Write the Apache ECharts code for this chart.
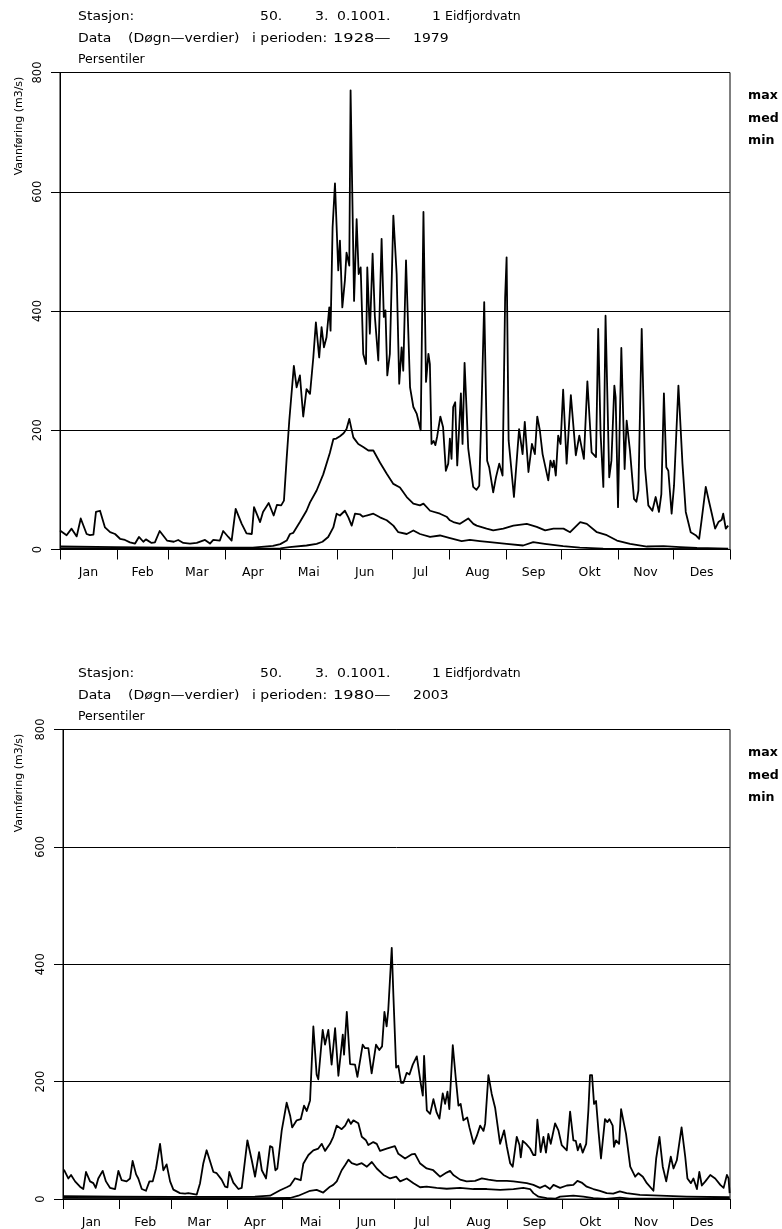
<!DOCTYPE html>
<html>
<head>
<meta charset="utf-8">
<script src="https://cdn.jsdelivr.net/npm/echarts@6/dist/echarts.min.js"></script>
<style>
html,body{margin:0;padding:0;background:#fff;}
#chart{width:782px;height:1229px;}
</style>
</head>
<body>
<div id="chart"></div>
<script>
// Month axis (day of year)
const monthNames = ['Jan','Feb','Mar','Apr','Mai','Jun','Jul','Aug','Sep','Okt','Nov','Des'];
const monthStarts = [0,31,59,90,120,151,181,212,243,273,304,334,365];
const yTicks = [0,200,400,600,800];
const seriesNames = ['max','med','min'];

// Header texts
const stationLabel = 'Stasjon:';
const stationNo = ['50.', '3.', '0.1001.', '1', 'Eidfjordvatn'];
const dataLabel = ['Data', '(Døgn\u2014verdier)', 'i perioden:'];
const period1 = ['1928\u2014', '1979'];
const period2 = ['1980\u2014', '2003'];
const subTitle = 'Persentiler';
const yTitle = 'Vannføring (m3/s)';

// 1928-1979, daily percentiles [day of year, m3/s]
const max1 = [[0,32],[3.6,24],[6.3,35],[9.1,22],[11.3,52],[14.5,26],[16.3,24],[18.2,25],[19.6,63],[21.8,65],[24.5,37],[27.3,29],[30,26],[32.7,18],[35.4,16],[38.1,12],[40.9,10],[43,21],[45.4,13],[46.8,17],[49.9,11],[51.7,12],[54.3,31],[58.3,15],[62,13],[64.4,16],[67.2,11],[70.8,10],[74.5,11],[79,16],[81.7,10],[83.5,16],[87.1,15],[88.9,31],[91.7,21],[93.5,15],[95.7,68],[99,43],[101.6,27],[104.5,26],[105.7,71],[109,46],[110.6,63],[113.7,78],[116.4,57],[118.2,75],[120.5,74],[122,82],[123.4,149],[124.9,216],[127.4,308],[128.9,272],[129.8,275],[130.7,292],[132.5,223],[134.3,269],[136.2,261],[138,322],[139.4,381],[141.2,322],[142.5,373],[143.8,339],[145.2,356],[146.7,406],[147.4,367],[148.5,540],[149.8,614],[151.6,468],[152.5,518],[153.8,406],[155.2,451],[156.1,498],[157.6,476],[158.3,770],[160.2,417],[161.6,554],[162.7,462],[163.8,473],[165.2,328],[166.7,311],[167.4,473],[168.8,362],[170.3,496],[171.5,392],[173.4,317],[175.2,521],[176.4,390],[177.3,401],[178.3,292],[179.7,328],[181.6,560],[183.4,462],[184.8,278],[186.1,339],[187,300],[188.5,485],[190.7,272],[192.5,239],[194.3,228],[196.5,200],[198,566],[199.4,281],[200.7,328],[201.5,311],[202.4,177],[203.5,182],[204.5,175],[205.5,190],[207.2,223],[208.7,205],[210.2,132],[211.5,144],[212.4,186],[213.3,152],[214.2,239],[215.3,247],[216.4,141],[218.4,262],[219.3,177],[220.4,313],[222.4,169],[225.1,105],[226.9,100],[228.4,107],[229.7,244],[231.1,415],[232.7,149],[233.8,138],[236,96],[237.5,121],[239.3,144],[241.1,124],[242.5,423],[243.3,490],[244.4,183],[247.3,88],[250.1,202],[252,160],[253.2,214],[255.2,130],[257.1,177],[258.7,160],[260,223],[261.4,200],[262.9,160],[266,116],[267.2,149],[268.3,138],[269,149],[270.1,124],[271.4,191],[272.7,177],[274.1,268],[276,144],[278.3,259],[281,158],[282.9,191],[285.4,152],[287.3,282],[289.6,163],[292,155],[293.2,370],[294.5,194],[296,105],[297.2,392],[299.2,121],[300.4,149],[301.2,150],[302,275],[302.7,255],[304,71],[305.8,338],[307.6,135],[308.7,216],[310.5,166],[312.7,85],[314,80],[315.1,99],[316.9,370],[318.7,138],[320.5,74],[322.7,65],[324.5,88],[326.3,63],[327.6,93],[329,262],[330.3,138],[331.4,132],[333.2,60],[334.5,107],[336.9,275],[339.1,144],[340.9,63],[343.6,29],[346.3,24],[348.2,18],[349.6,51],[351.8,105],[353.6,80],[355.1,60],[356.9,35],[358.7,46],[360.5,50],[361.3,60],[362.7,35],[364,40]];
const med1 = [[0,5],[30,4],[60,3],[90,3],[105,3],[116,6],[120,9],[123.5,15],[125.3,26],[127.1,28],[130.7,46],[134.3,65],[136.2,79],[137,82],[139.8,99],[143.4,126],[147,162],[148.9,185],[150.5,186],[152.5,190],[154.5,195],[156.1,202],[157.6,219],[158.3,222],[159.8,188],[161,183],[162.5,177],[165.2,172],[168,166],[170.7,166],[174.3,146],[178,127],[181.6,110],[185.2,104],[188.9,88],[192.5,77],[196.1,74],[198,77],[201.6,65],[207,60],[210.6,55],[212.4,49],[214.3,46],[217.9,43],[222.4,52],[225.2,43],[227,40],[232.4,35],[236,32],[241.5,35],[247,40],[254.3,43],[259.7,38],[264.3,32],[268.8,35],[274.3,35],[277.9,29],[283.4,46],[287,43],[292.5,29],[297.9,24],[303.4,15],[310.6,9.5],[319.7,5],[328.8,5.7],[337.9,4],[347,2.5],[364,1.5]];
const min1 = [[0,2],[60,1.5],[120,2],[125,4],[134.3,6.7],[139.8,9.5],[143,13],[146.1,21],[148.9,37],[150.7,60],[152.5,57],[155.2,65],[157.1,54],[158.9,40],[160.7,60],[163.4,59],[165,55],[167,57],[170.7,60],[174.3,54],[178,49],[181.6,40],[184.3,29],[188.9,26],[192.5,32],[196.1,26],[201.6,21],[207,23.5],[212,19.6],[218.8,14],[223.3,16],[228.7,14],[234.2,12.3],[243.3,9.5],[252.3,6.7],[257.8,12.3],[264.1,9.5],[274.1,5.6],[283.2,3],[295.9,1.3],[364,0.7]];

// 1980-2003, daily percentiles [day of year, m3/s]
const max2 = [[0.5,50],[2.9,35],[4.4,41],[6.6,30],[9.3,21],[11.1,17],[12.6,46],[14.8,30],[16.6,27],[17.9,19],[19.3,35],[21.7,48],[23.5,30],[25.7,19],[28.5,17],[30.3,48],[32.1,32],[34.8,30],[36.7,35],[38.1,65],[40,42],[41.2,35],[43.1,17],[45.4,14],[47.3,30],[49.1,30],[50.9,52],[53.1,94],[54.9,49],[56.7,59],[58.6,30],[60.4,16],[64,10],[66.8,9],[68.6,10],[73.2,7.5],[75,27],[76.8,61],[78.6,83],[79.5,84],[82.3,46],[84.1,44],[86.8,33],[88.7,21],[90,20],[91,46],[93.2,28],[96,17],[97.8,19],[100.9,100],[103.3,66],[105.1,38],[107.3,80],[108.8,49],[111.1,35],[113.3,90],[114.6,88],[116.2,49],[117.3,52],[119.7,117],[122.4,164],[124.3,142],[125.4,122],[127.9,134],[130.1,136],[131.9,159],[133.4,150],[135.2,168],[137,294],[138.8,212],[139.7,204],[142.1,288],[143.4,263],[145.2,288],[147,229],[148.9,291],[150.7,210],[151.3,207],[153.1,280],[153.8,246],[155.3,319],[157.1,230],[159.8,229],[161.1,208],[164,263],[165.3,257],[167.1,257],[168.9,214],[171.3,263],[173.1,254],[174.6,260],[175.9,319],[177.1,294],[178,322],[179.9,428],[180.8,347],[182.3,224],[183.5,227],[185,198],[186.3,198],[188.1,215],[189.6,212],[191.4,229],[193.6,243],[195.8,196],[196.9,176],[197.6,244],[199.1,151],[200.9,145],[202.7,170],[204.5,147],[206,137],[207.8,180],[209.1,162],[210.4,183],[211.4,153],[213.3,262],[214.9,207],[216.4,159],[217.6,162],[219.1,134],[221.2,139],[222.4,122],[224.7,94],[226.4,107],[228.3,125],[230.1,116],[231,128],[232.8,211],[234.6,179],[236.5,155],[239.2,94],[241.4,117],[242.9,89],[244.7,61],[246.1,55],[248.3,106],[249.8,92],[250.5,71],[251.6,99],[253.4,94],[255.6,86],[257.4,75],[258.5,75],[259.6,135],[261.4,80],[262.9,106],[264.3,79],[265.6,111],[266.9,94],[269.3,129],[271.1,117],[272.9,92],[275.7,83],[276.6,85],[277.5,149],[279.3,100],[280.6,99],[281.7,83],[283,94],[284.4,79],[286.3,94],[287.5,151],[288.4,211],[289.5,211],[290.6,162],[291.7,167],[293,117],[294.4,69],[296.6,136],[297.9,131],[299,136],[300.8,125],[301.5,89],[302.6,100],[304.3,94],[305.4,153],[307,128],[308.1,111],[310.4,55],[313.1,38],[314.9,44],[317.3,38],[319.5,27],[323.1,14],[324.6,69],[326.4,106],[328.2,55],[330.1,30],[332.6,72],[334.1,52],[335.9,66],[338.5,122],[340.5,72],[341.7,35],[343.6,27],[345,35],[346.9,17],[348.2,46],[349.6,23],[351.5,30],[354.2,41],[356.9,35],[359.7,24],[361.5,19],[363.3,41],[364.2,35],[364.8,10]];
const med2 = [[0,5],[30,4],[60,3.5],[90,3.5],[105,4],[113.3,5.6],[118.8,15],[122.4,20],[124.3,23],[126.9,35],[130.1,32],[131.5,60],[134.3,75],[137,83],[139.7,86],[141.6,94],[143.4,82],[146.1,94],[147.9,106],[149.8,125],[152.5,119],[154.4,125],[156.2,136],[157.5,128],[158.9,134],[161.6,129],[163.5,106],[165.8,100],[167.1,92],[169.8,97],[171.7,94],[173.5,82],[177.1,86],[181.6,90],[183.5,77],[187.2,69],[190.7,76],[192.6,77],[195.3,61],[199,52],[202.6,49],[206.3,38],[209.9,45],[211.8,48],[213.6,41],[217.3,33],[220.9,30],[225.5,31],[229.2,35],[232.8,33],[237.4,31],[242.9,31],[246.5,30],[253.8,27],[257.4,24],[261,19],[263.8,23],[266.5,17],[268.4,24],[272,19],[275.7,23],[279.3,24],[281.5,31],[283.8,28],[286.6,21],[290.2,17],[293.8,14],[297.5,10],[301.1,9],[304.7,13],[308.4,10],[315.7,7],[326.7,5.6],[341.3,4.2],[364.8,3]];
const min2 = [[0,2],[60,1.5],[110,1.5],[124.3,1.7],[128.8,5.6],[135.2,14],[138.8,15.5],[142.4,11],[146.1,21],[147.9,24],[149.8,30],[152.5,49],[154.4,58],[156.2,67],[158,61],[160.8,58],[163.5,61],[166.3,55],[169,63],[171.7,52],[175.4,41],[179,35],[182.3,38],[184.5,30],[188.1,35],[191.8,27],[195.4,20],[199,21],[204.5,19],[210,17.5],[217.3,19],[224.6,17],[231.9,17],[239.2,15.5],[246.5,17],[251.9,19],[255.6,17],[257.4,10],[260.2,4],[264.7,1.4],[269.3,0.5],[272,4],[279.3,5.6],[284.8,4],[290.2,1.4],[297,0.3],[304.7,2.5],[310,0.5],[364.8,0.5]];

const FONT = '"DejaVu Sans", sans-serif';
const monthMids = monthStarts.slice(0, 12).map((s, i) => (s + monthStarts[i + 1]) / 2);

const chart = echarts.init(document.getElementById('chart'), null, {renderer: 'canvas'});

const panels = [
  {grid: {left: 60, right: 52, top: 72.5, height: 477}, period: period1, data: [max1, med1, min1], dy: 0},
  {grid: {left: 63, right: 52, top: 729.5, height: 473.5}, period: period2, data: [max2, med2, min2], dy: 657}
];

function xAxisFor(i) {
  return {
    type: 'value', gridIndex: i, min: 0, max: 365,
    axisLine: {show: true, lineStyle: {color: '#000', width: 1}},
    axisTick: {show: true, customValues: monthStarts, length: 10, lineStyle: {color: '#000', width: 1}},
    axisLabel: {
      show: true, customValues: monthMids, margin: 17,
      color: '#000', fontFamily: FONT, fontSize: 12.5,
      formatter: v => monthNames[monthMids.indexOf(v)] || ''
    },
    splitLine: {show: false}
  };
}

function yAxisFor(i) {
  return {
    type: 'value', gridIndex: i, min: 0, max: 800, interval: 200,
    axisLine: {show: true, lineStyle: {color: '#000', width: 1}},
    axisTick: {show: true, length: 9, lineStyle: {color: '#000', width: 1}},
    axisLabel: {
      show: true, rotate: 90, margin: 16, color: '#000', fontFamily: FONT, fontSize: 11.5,
      customValues: yTicks
    },
    splitLine: {show: true, lineStyle: {color: '#000', width: 1}}
  };
}

function text(x, y, s, extra) {
  extra = extra || {};
  return {
    type: 'text', x: x, y: y, silent: true,
    rotation: extra.rotation || 0, scaleX: extra.scaleX || 1,
    style: Object.assign({
      text: s, fill: '#000', font: '12.5px ' + FONT,
      textAlign: 'left', textVerticalAlign: 'middle', align: 'left', verticalAlign: 'middle'
    }, extra.style || {})
  };
}

const graphics = [];
panels.forEach(p => {
  const d = p.dy;
  const sx = {scaleX: 1.12};
  // station line
  graphics.push(text(78, 17 + d, stationLabel, sx));
  [260, 315, 337, 432, 445].forEach((x, k) => graphics.push(text(x, 17 + d, stationNo[k], {scaleX: k === 4 ? 1.0 : 1.12})));
  // data period line
  graphics.push(text(78, 39 + d, dataLabel[0], sx));
  graphics.push(text(128, 39 + d, dataLabel[1], sx));
  graphics.push(text(252, 39 + d, dataLabel[2], sx));
  graphics.push(text(333, 39 + d, p.period[0], {scaleX: 1.3}));
  graphics.push(text(413, 39 + d, p.period[1], sx));
  graphics.push(text(78, 60 + d, subTitle, {scaleX: 1.0}));
  // series names
  seriesNames.forEach((n, k) => {
    graphics.push(text(748, 96 + k * 22.5 + d, n, {style: {font: 'bold 12px ' + FONT}, scaleX: 1.05}));
  });
  // y-axis title
  graphics.push(text(19, 126 + d, yTitle, {rotation: Math.PI / 2, style: {font: '11px ' + FONT, textAlign: 'center', align: 'center'}}));
});

const series = [];
panels.forEach((p, i) => {
  p.data.forEach((arr, k) => {
    series.push({
      name: seriesNames[k], type: 'line', xAxisIndex: i, yAxisIndex: i,
      data: arr, showSymbol: false, symbol: 'none', smooth: false,
      lineStyle: {color: '#000', width: 1.8, join: 'round'},
      silent: true, z: 3
    });
  });
});

chart.setOption({
  backgroundColor: '#fff',
  animation: false,
  grid: panels.map(p => Object.assign({show: true, borderColor: '#000', borderWidth: 1, backgroundColor: 'transparent'}, p.grid)),
  xAxis: panels.map((p, i) => xAxisFor(i)),
  yAxis: panels.map((p, i) => yAxisFor(i)),
  series: series,
  graphic: graphics
});
</script>
</body>
</html>
